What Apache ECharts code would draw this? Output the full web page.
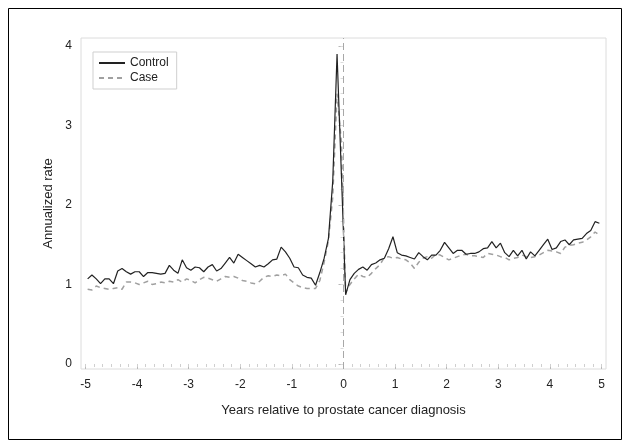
<!DOCTYPE html>
<html>
<head>
<meta charset="utf-8">
<title>Annualized rate</title>
<script src="https://cdn.jsdelivr.net/npm/echarts@6/dist/echarts.min.js"></script>
<style>
    html, body { margin: 0; padding: 0; background: #fff; }
    #main { width: 630px; height: 447px; }
</style>
</head>
<body>
<div id="main"></div>
<script>
    // monthly rates, 5 years before to 5 years after diagnosis (120 months)
    var control = [
        1.07, 1.12, 1.07, 1.01, 1.07, 1.07, 1.01, 1.17, 1.20, 1.16, 1.13, 1.16,
        1.16, 1.10, 1.15, 1.15, 1.14, 1.13, 1.14, 1.24, 1.18, 1.14, 1.31, 1.21,
        1.18, 1.22, 1.21, 1.16, 1.22, 1.25, 1.17, 1.20, 1.27, 1.34, 1.27, 1.38,
        1.34, 1.30, 1.26, 1.22, 1.24, 1.22, 1.26, 1.31, 1.32, 1.47, 1.41, 1.33,
        1.22, 1.21, 1.12, 1.09, 1.08, 0.99, 1.15, 1.33, 1.58, 2.30, 3.90, 2.40,
        0.87, 1.06, 1.14, 1.19, 1.22, 1.18, 1.25, 1.27, 1.31, 1.33, 1.45, 1.60,
        1.40, 1.37, 1.36, 1.34, 1.32, 1.40, 1.35, 1.31, 1.37, 1.37, 1.43, 1.53,
        1.46, 1.39, 1.43, 1.43, 1.38, 1.39, 1.39, 1.41, 1.45, 1.46, 1.54, 1.46,
        1.52, 1.40, 1.35, 1.43, 1.36, 1.43, 1.32, 1.41, 1.36, 1.43, 1.50, 1.57,
        1.44, 1.46, 1.54, 1.56, 1.50, 1.56, 1.57, 1.58, 1.64, 1.68, 1.79, 1.77
    ];
    var cases = [
        0.94, 0.93, 0.98, 0.96, 0.95, 0.94, 0.95, 0.96, 0.94, 1.03, 1.03, 1.02,
        1.00, 1.02, 1.04, 1.00, 1.01, 1.03, 1.02, 1.04, 1.03, 1.06, 1.03, 1.07,
        1.05, 1.02, 1.06, 1.09, 1.08, 1.06, 1.04, 1.07, 1.10, 1.09, 1.10, 1.08,
        1.05, 1.04, 1.02, 1.01, 1.04, 1.09, 1.11, 1.10, 1.12, 1.11, 1.13, 1.06,
        1.02, 0.98, 0.96, 0.95, 0.95, 0.95, 1.05, 1.28, 1.55, 2.10, 3.40, 2.80,
        0.90, 1.00, 1.07, 1.13, 1.10, 1.09, 1.14, 1.20, 1.25, 1.34, 1.35, 1.33,
        1.34, 1.32, 1.31, 1.27, 1.20, 1.28, 1.33, 1.35, 1.33, 1.38, 1.37, 1.34,
        1.31, 1.33, 1.35, 1.37, 1.38, 1.36, 1.36, 1.35, 1.34, 1.39, 1.38, 1.37,
        1.35, 1.34, 1.31, 1.33, 1.34, 1.37, 1.35, 1.34, 1.35, 1.37, 1.40, 1.43,
        1.42, 1.41, 1.39, 1.47, 1.49, 1.50, 1.52, 1.53, 1.56, 1.60, 1.66, 1.62
    ];
    var xTicks = [-5, -4, -3, -2, -1, 0, 1, 2, 3, 4, 5];
    var yTicks = [0, 1, 2, 3, 4];

    // month midpoints in years
    var years = [];
    for (var k = -60; k < 60; k++) {
        years.push((k + 0.5) / 12);
    }

    function pairs(vals) {
        var res = [];
        for (var i = 0; i < vals.length; i++) {
            res.push([years[i], vals[i]]);
        }
        return res;
    }

    // minor ticks: every 2 months on x, 0.2 on y
    var xMinor = [];
    for (var a = 0; a <= 60; a++) { xMinor.push(-5 + a / 6); }
    var yMinor = [];
    for (var b = 0; b <= 20; b++) { yMinor.push(b / 5); }

    var font = '"Liberation Sans", Arial, sans-serif';
    var chart = echarts.init(document.getElementById('main'));

    var option = {
        animation: false,
        textStyle: { fontFamily: font },
        graphic: [{
            type: 'rect',
            shape: { x: 8.5, y: 8.5, width: 613, height: 431 },
            style: { fill: 'none', stroke: '#000', lineWidth: 1 },
            silent: true
        }],
        legend: {
            orient: 'vertical',
            left: 93,
            top: 52,
            padding: [5, 8, 5, 5],
            itemGap: 3,
            itemWidth: 26,
            itemHeight: 12,
            borderColor: '#cfcfcf',
            borderWidth: 1,
            itemStyle: { opacity: 0 },
            textStyle: { fontSize: 12, color: '#222', fontFamily: font },
            data: ['Control', 'Case']
        },
        grid: {
            left: 81, right: 24, top: 38, bottom: 78,
            show: true, borderColor: '#dcdcdc', borderWidth: 1
        },
        xAxis: [{
            type: 'value',
            min: -5.087, max: 5.087,
            name: 'Years relative to prostate cancer diagnosis',
            nameLocation: 'middle',
            nameGap: 35,
            nameTextStyle: { fontSize: 13, color: '#222' },
            axisLine: { show: false },
            splitLine: { show: false },
            axisTick: { show: true, length: 5, inside: false, customValues: xTicks, lineStyle: { color: '#b8b8b8' } },
            axisLabel: { customValues: xTicks, margin: 10, fontSize: 12, color: '#222' }
        }, {
            type: 'value',
            min: -5.087, max: 5.087,
            position: 'bottom',
            axisLine: { show: false },
            splitLine: { show: false },
            axisTick: { show: true, length: 3, customValues: xMinor, lineStyle: { color: '#cfcfcf' } },
            axisLabel: { show: false }
        }],
        yAxis: [{
            type: 'value',
            min: -0.063, max: 4.1,
            name: 'Annualized rate',
            nameLocation: 'middle',
            nameGap: 21,
            nameTextStyle: { fontSize: 13, color: '#222' },
            axisLine: { show: false },
            splitLine: { show: false },
            axisTick: { show: true, length: 5, customValues: yTicks, lineStyle: { color: '#b8b8b8' } },
            axisLabel: { customValues: yTicks, margin: 9, fontSize: 12, color: '#222' }
        }, {
            type: 'value',
            min: -0.063, max: 4.1,
            position: 'left',
            axisLine: { show: false },
            splitLine: { show: false },
            axisTick: { show: true, length: 3, customValues: yMinor, lineStyle: { color: '#dcdcdc' } },
            axisLabel: { show: false }
        }],
        series: [
            {
                name: 'Control',
                type: 'line',
                showSymbol: false,
                symbol: 'none',
                data: pairs(control),
                lineStyle: { color: '#222', width: 1.2 },
                itemStyle: { color: '#222' },
                markLine: {
                    silent: true,
                    symbol: 'none',
                    label: { show: false },
                    lineStyle: { color: '#a8a8a8', type: [7, 4], width: 1 },
                    data: [{ xAxis: 0 }]
                },
                z: 3
            },
            {
                name: 'Case',
                type: 'line',
                showSymbol: false,
                symbol: 'none',
                data: pairs(cases),
                lineStyle: { color: '#a0a0a0', width: 1.5, type: [5, 4] },
                itemStyle: { color: '#a0a0a0' },
                z: 2
            }
        ]
    };
    chart.setOption(option);
</script>
</body>
</html>
